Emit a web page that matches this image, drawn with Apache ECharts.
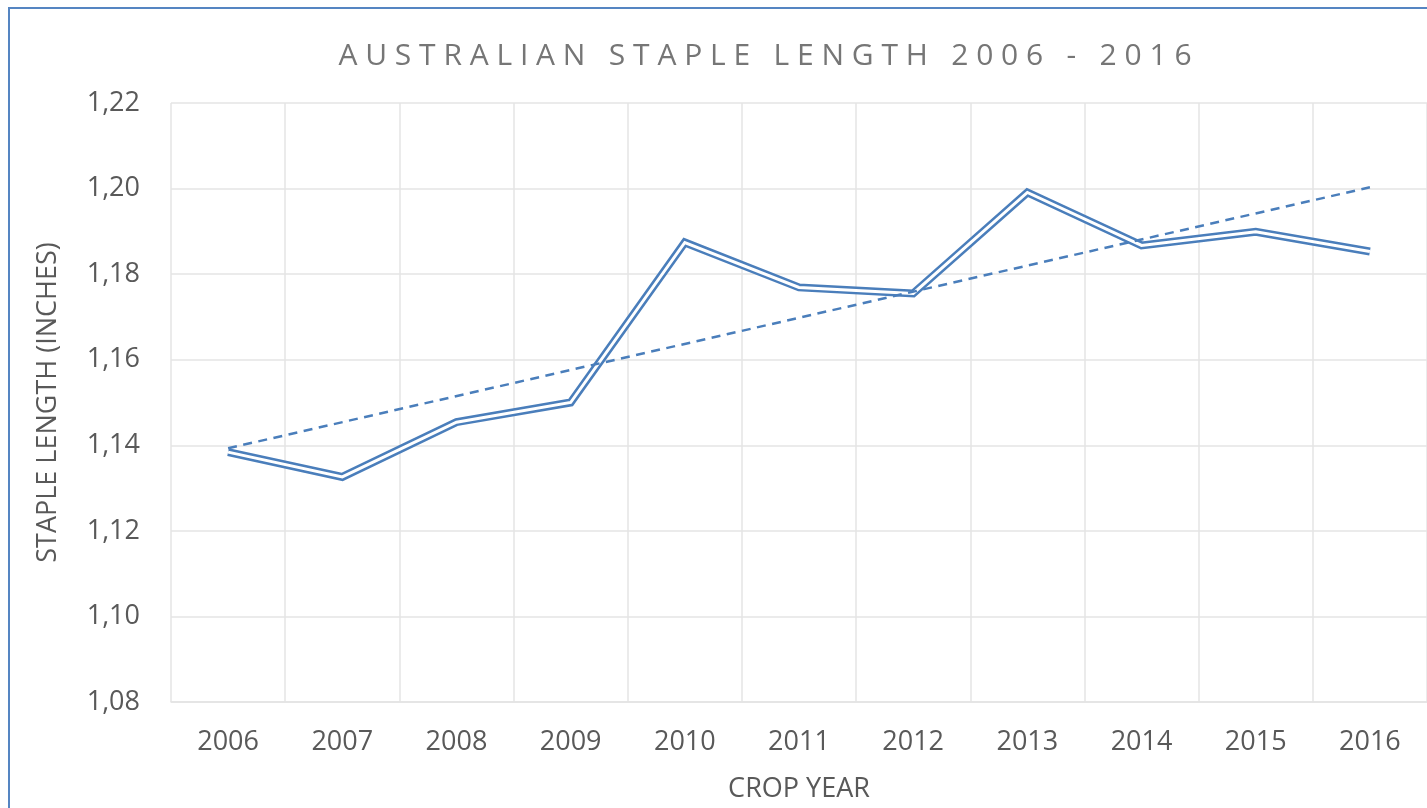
<!DOCTYPE html>
<html>
<head>
<meta charset="utf-8">
<title>Australian staple length 2006 - 2016</title>
<script src="https://cdn.jsdelivr.net/npm/echarts@6/dist/echarts.min.js"></script>
<style>
  html, body { margin: 0; padding: 0; background: #fff; }
  #chart { width: 1427px; height: 808px; }
</style>
</head>
<body>
<div id="chart"></div>
<script>
// crop years on the x axis
const years = ["2006", "2007", "2008", "2009", "2010", "2011", "2012", "2013", "2014", "2015", "2016"];
// staple length in inches
const stapleLength = [1.1384, 1.1326, 1.1454, 1.1500, 1.1874, 1.1769, 1.1755, 1.1991, 1.1867, 1.1899, 1.1853];
// linear trendline, only its two end points (2006 and 2016)
const trendEnds = [1.1393, 1.2003];
// y axis ticks
const yTicks = [1.08, 1.10, 1.12, 1.14, 1.16, 1.18, 1.20, 1.22];

const titleText = "AUSTRALIAN STAPLE LENGTH 2006 - 2016";
const blue = "#4a7ebb";
const gridGray = "#e4e4e4";
const labelGray = "#595959";
const font = "'Open Sans', 'Liberation Sans', sans-serif";

// Excel spreads the title letters out; emulate with spaces
function spreadOut(s) {
  return s.split(" ").map((w) => w.split("").join(" ")).join("   ");
}

const trendData = years.map((y, i) =>
  i === 0 ? trendEnds[0] : i === years.length - 1 ? trendEnds[1] : null
);

const chart = echarts.init(document.getElementById("chart"), null, { renderer: "canvas" });

const option = {
  animation: false,
  backgroundColor: "#ffffff",
  graphic: [
    {
      type: "rect",
      shape: { x: 9, y: 8, width: 2000, height: 2000 },
      style: { fill: "none", stroke: "#5585c2", lineWidth: 2 },
      silent: true,
    },
    {
      type: "text",
      x: 765,
      y: 56,
      style: {
        text: spreadOut(titleText),
        font: "30px " + font,
        fill: "#767676",
        textAlign: "center",
        textVerticalAlign: "middle",
      },
      silent: true,
    },
  ],
  grid: {
    left: 171,
    top: 103,
    right: -4,
    bottom: 106,
    containLabel: false,
  },
  xAxis: {
    type: "category",
    data: years,
    boundaryGap: true,
    name: "CROP YEAR",
    nameLocation: "middle",
    nameGap: 74,
    nameTextStyle: { fontFamily: font, fontSize: 27, color: labelGray },
    axisLine: { show: true, lineStyle: { color: gridGray, width: 1.5 } },
    axisTick: { show: false },
    axisLabel: { fontFamily: font, fontSize: 27, color: labelGray, margin: 27 },
    splitLine: { show: true, lineStyle: { color: gridGray, width: 1.5 } },
  },
  yAxis: {
    type: "value",
    min: yTicks[0],
    max: yTicks[yTicks.length - 1],
    interval: 0.02,
    name: "STAPLE LENGTH (INCHES)",
    nameLocation: "middle",
    nameGap: 109,
    nameTextStyle: { fontFamily: font, fontSize: 27, color: labelGray },
    axisLine: { show: false },
    axisTick: { show: false },
    axisLabel: {
      fontFamily: font,
      fontSize: 27,
      color: labelGray,
      margin: 31,
      formatter: (v) => v.toFixed(2).replace(".", ","),
    },
    splitLine: { show: true, lineStyle: { color: gridGray, width: 1.5 } },
  },
  series: [
    {
      name: "Staple length",
      type: "line",
      data: stapleLength,
      symbol: "none",
      z: 3,
      lineStyle: { color: blue, width: 8, cap: "butt", join: "miter" },
    },
    {
      name: "Staple length (inner)",
      type: "line",
      data: stapleLength,
      symbol: "none",
      z: 4,
      lineStyle: { color: "#ffffff", width: 3, cap: "butt", join: "miter" },
    },
    {
      name: "Linear trend",
      type: "line",
      data: trendData,
      connectNulls: true,
      symbol: "none",
      z: 5,
      lineStyle: { color: blue, width: 2.5, type: [9, 6.5], cap: "butt" },
    },
  ],
};

chart.setOption(option);
</script>
</body>
</html>
